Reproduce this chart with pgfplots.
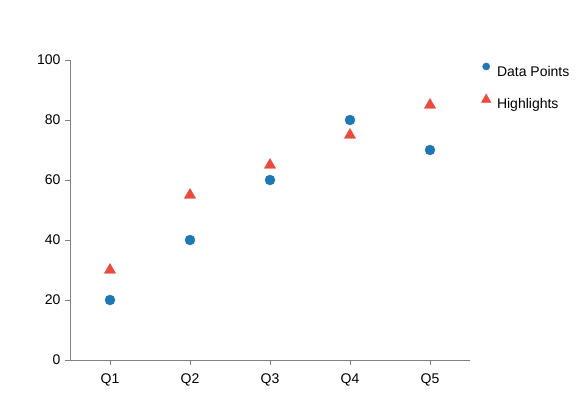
\documentclass[border=0pt]{standalone}
\usepackage{pgfplots}
\pgfplotsset{compat=1.18}
\usepackage{fontspec}
\setmainfont{Liberation Sans}
\definecolor{dpblue}{HTML}{1F77B4}
\definecolor{hlred}{HTML}{E74C3C}
\definecolor{axgray}{HTML}{808080}
\begin{document}
\begin{tikzpicture}
\path[use as bounding box] (-70pt,-37pt) rectangle (510pt,360pt);
\begin{axis}[
  at={(0pt,0pt)}, anchor=south west,
  scale only axis, width=400pt, height=300pt,
  xmin=-0.5, xmax=4.5, ymin=0, ymax=100,
  xtick={0,1,2,3,4}, xticklabels={Q1,Q2,Q3,Q4,Q5},
  ytick={0,20,40,60,80,100},
  axis x line*=bottom, axis y line*=left,
  axis line style={axgray, line width=0.8pt},
  tick style={axgray, line width=0.8pt},
  tick align=outside, major tick length=5pt,
  ticklabel style={font=\fontsize{14}{16}\selectfont},
  /pgf/number format/assume math mode=true,
  xticklabel style={yshift=-5pt},
  yticklabel style={xshift=-1pt},
  legend style={at={(1.0,1.0)}, anchor=north west, draw=none, fill=none,
    font=\fontsize{14}{16}\selectfont, row sep=15pt, xshift=8pt, yshift=-0.5pt,
    nodes={inner sep=1pt}},
  legend cell align=left,
]
\addplot[only marks, mark=*, mark size=5pt, color=dpblue, mark options={draw=dpblue, fill=dpblue},
  legend image code/.code={\fill[dpblue] (0.3cm,0.19cm) circle (3.6pt);\path (0.3cm+9.6pt,0.1cm);}]
  coordinates {(0,20) (1,40) (2,60) (3,80) (4,70)};
\addlegendentry{Data Points}
\addplot[only marks, mark=triangle*, mark size=6.5pt, color=hlred, mark options={draw=hlred, fill=hlred},
  legend image code/.code={\fill[hlred] (0.3cm,0.19cm) ++(0,4.8pt) -- ++(-4.8pt,-8.5pt) -- ++(9.6pt,0) -- cycle;\path (0.3cm+9.6pt,0.1cm);}]
  coordinates {(0,30) (1,55) (2,65) (3,75) (4,85)};
\addlegendentry{Highlights}
\end{axis}
\end{tikzpicture}
\end{document}
